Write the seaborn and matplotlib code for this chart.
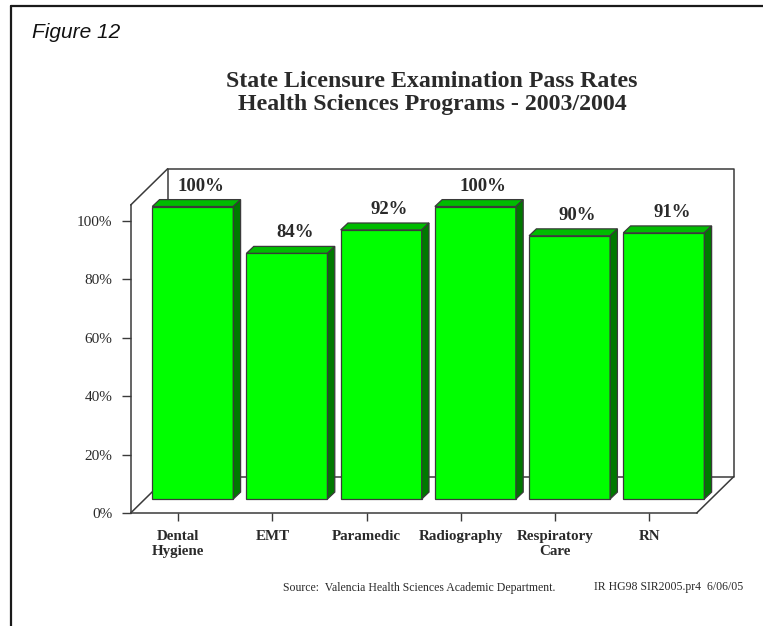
import matplotlib
matplotlib.use("Agg")
import matplotlib.pyplot as plt
from matplotlib.patches import Polygon
from matplotlib.lines import Line2D
from matplotlib.ticker import PercentFormatter
import seaborn as sns
import pandas as pd

# ---- data ----
programs = ["Dental\nHygiene", "EMT", "Paramedic", "Radiography", "Respiratory\nCare", "RN"]
pass_rates = [100, 84, 92, 100, 90, 91]
y_ticks = [0, 20, 40, 60, 80, 100]

title_lines = ["State Licensure Examination Pass Rates",
               "Health Sciences Programs - 2003/2004"]
source_note = "Source:  Valencia Health Sciences Academic Department."
file_note = "IR HG98 SIR2005.pr4  6/06/05"

# ---- style ----
sns.set_theme(style="white")
plt.rcParams["font.family"] = ["Liberation Serif", "DejaVu Serif"]

FACE = "#00FF00"
TOP = "#00BC00"
SIDE = "#007800"
EDGE = "#3a3a3a"
INK = "#2a2a2a"

W_PX, H_PX = 763, 626
DPI = 100
fig = plt.figure(figsize=(W_PX / DPI, H_PX / DPI), dpi=DPI)

# axes box: front plane of the 3-D frame (pixel geometry)
ax_l, ax_r = 130.7, 696.7
ax_t, ax_b = 205.0, 513.0
ax = fig.add_axes([ax_l / W_PX, 1 - ax_b / H_PX,
                   (ax_r - ax_l) / W_PX, (ax_b - ax_t) / H_PX])

df = pd.DataFrame({"program": programs, "rate": pass_rates})
sns.barplot(data=df, x="program", y="rate", color=FACE, saturation=1,
            width=0.86, edgecolor=EDGE, linewidth=0.9, ax=ax, zorder=3)

XLIM = (-0.505, 5.503)
YLIM = (0, 105.3)
ax.set_xlim(*XLIM)
ax.set_ylim(*YLIM)

# pixel -> data conversions
sx = (XLIM[1] - XLIM[0]) / (ax_r - ax_l)
sy = (YLIM[1] - YLIM[0]) / (ax_b - ax_t)

depth = (37.0, 36.3)        # full depth of the floor / back wall
front = (14.5, 14.0)        # bar front face offset from the front plane
bdep = (7.3, 6.9)           # bar depth

# shift bar fronts back into the box
for p in ax.patches:
    p.set_x(p.get_x() + front[0] * sx)
    p.set_y(p.get_y() + front[1] * sy)
    p.set_clip_on(False)

# top and side faces of the bars
for p in list(ax.patches):
    xl = p.get_x()
    xr = xl + p.get_width()
    yb = p.get_y()
    yt = yb + p.get_height()
    ddx, ddy = bdep[0] * sx, bdep[1] * sy
    top = Polygon([(xl, yt), (xr, yt), (xr + ddx, yt + ddy), (xl + ddx, yt + ddy)],
                  closed=True, facecolor=TOP, edgecolor=EDGE, linewidth=0.9,
                  zorder=3, clip_on=False)
    side = Polygon([(xr, yb), (xr, yt), (xr + ddx, yt + ddy), (xr + ddx, yb + ddy)],
                   closed=True, facecolor=SIDE, edgecolor=EDGE, linewidth=0.9,
                   zorder=3, clip_on=False)
    ax.add_patch(top)
    ax.add_patch(side)

# back wall and floor edges
Dx, Dy = depth[0] * sx, depth[1] * sy
x0, x1 = XLIM
y0, y1 = YLIM
frame_kw = dict(color=EDGE, linewidth=1.1, zorder=1, clip_on=False)
ax.add_line(Line2D([x0 + Dx, x0 + Dx, x1 + Dx, x1 + Dx, x0 + Dx],
                   [y0 + Dy, y1 + Dy, y1 + Dy, y0 + Dy, y0 + Dy], **frame_kw))
ax.add_line(Line2D([x0, x0 + Dx], [y0, y0 + Dy], **frame_kw))
ax.add_line(Line2D([x0, x0 + Dx], [y1, y1 + Dy], **frame_kw))
ax.add_line(Line2D([x1, x1 + Dx], [y0, y0 + Dy], **frame_kw))

# value labels above each bar
for i, v in enumerate(pass_rates):
    ax.annotate(f"{v}%", xy=(i, v), xytext=(16.2, 21.5), textcoords="offset points",
                ha="center", va="baseline", fontsize=13.5, fontweight="bold",
                color=INK, zorder=5, annotation_clip=False)

# axes styling
sns.despine(ax=ax, top=True, right=True)
for s in ("left", "bottom"):
    ax.spines[s].set_color(EDGE)
    ax.spines[s].set_linewidth(1.1)
ax.set_yticks(y_ticks)
ax.yaxis.set_major_formatter(PercentFormatter(decimals=0))
ax.tick_params(axis="y", direction="out", length=6.3, width=1.0, color=EDGE,
               pad=7, labelsize=11, labelcolor=INK, left=True)
ax.tick_params(axis="x", direction="out", length=6, width=1.0, color=EDGE,
               pad=6, labelsize=10.8, labelcolor=INK, bottom=True)
for lab in ax.get_xticklabels():
    lab.set_fontweight("bold")
    lab.set_linespacing(1.2)
ax.set_xlabel("")
ax.set_ylabel("")
ax.set_facecolor("none")
ax.grid(False)

# titles and notes
fig.text(432 / W_PX, 1 - 86.7 / H_PX, title_lines[0], ha="center", va="baseline",
         fontsize=17.2, fontweight="bold", color=INK)
fig.text(432 / W_PX, 1 - 110.0 / H_PX, title_lines[1], ha="center", va="baseline",
         fontsize=17.2, fontweight="bold", color=INK)
fig.text(32 / W_PX, 1 - 38.5 / H_PX, "Figure 12", ha="left", va="baseline",
         fontsize=15, fontstyle="italic", family=["Liberation Sans", "DejaVu Sans"],
         color="#111111")
fig.text(283 / W_PX, 1 - 591 / H_PX, source_note, ha="left", va="baseline",
         fontsize=8.5, color=INK)
fig.text(743 / W_PX, 1 - 590 / H_PX, file_note, ha="right", va="baseline",
         fontsize=8.5, color=INK)

# page border
border_kw = dict(color="#1a1a1a", linewidth=1.6, transform=None)
fig.add_artist(Line2D([10.5, 10.5], [0, H_PX - 6], **border_kw))
fig.add_artist(Line2D([10.5, W_PX], [H_PX - 6, H_PX - 6], **border_kw))

fig.savefig("out.png", dpi=DPI)
